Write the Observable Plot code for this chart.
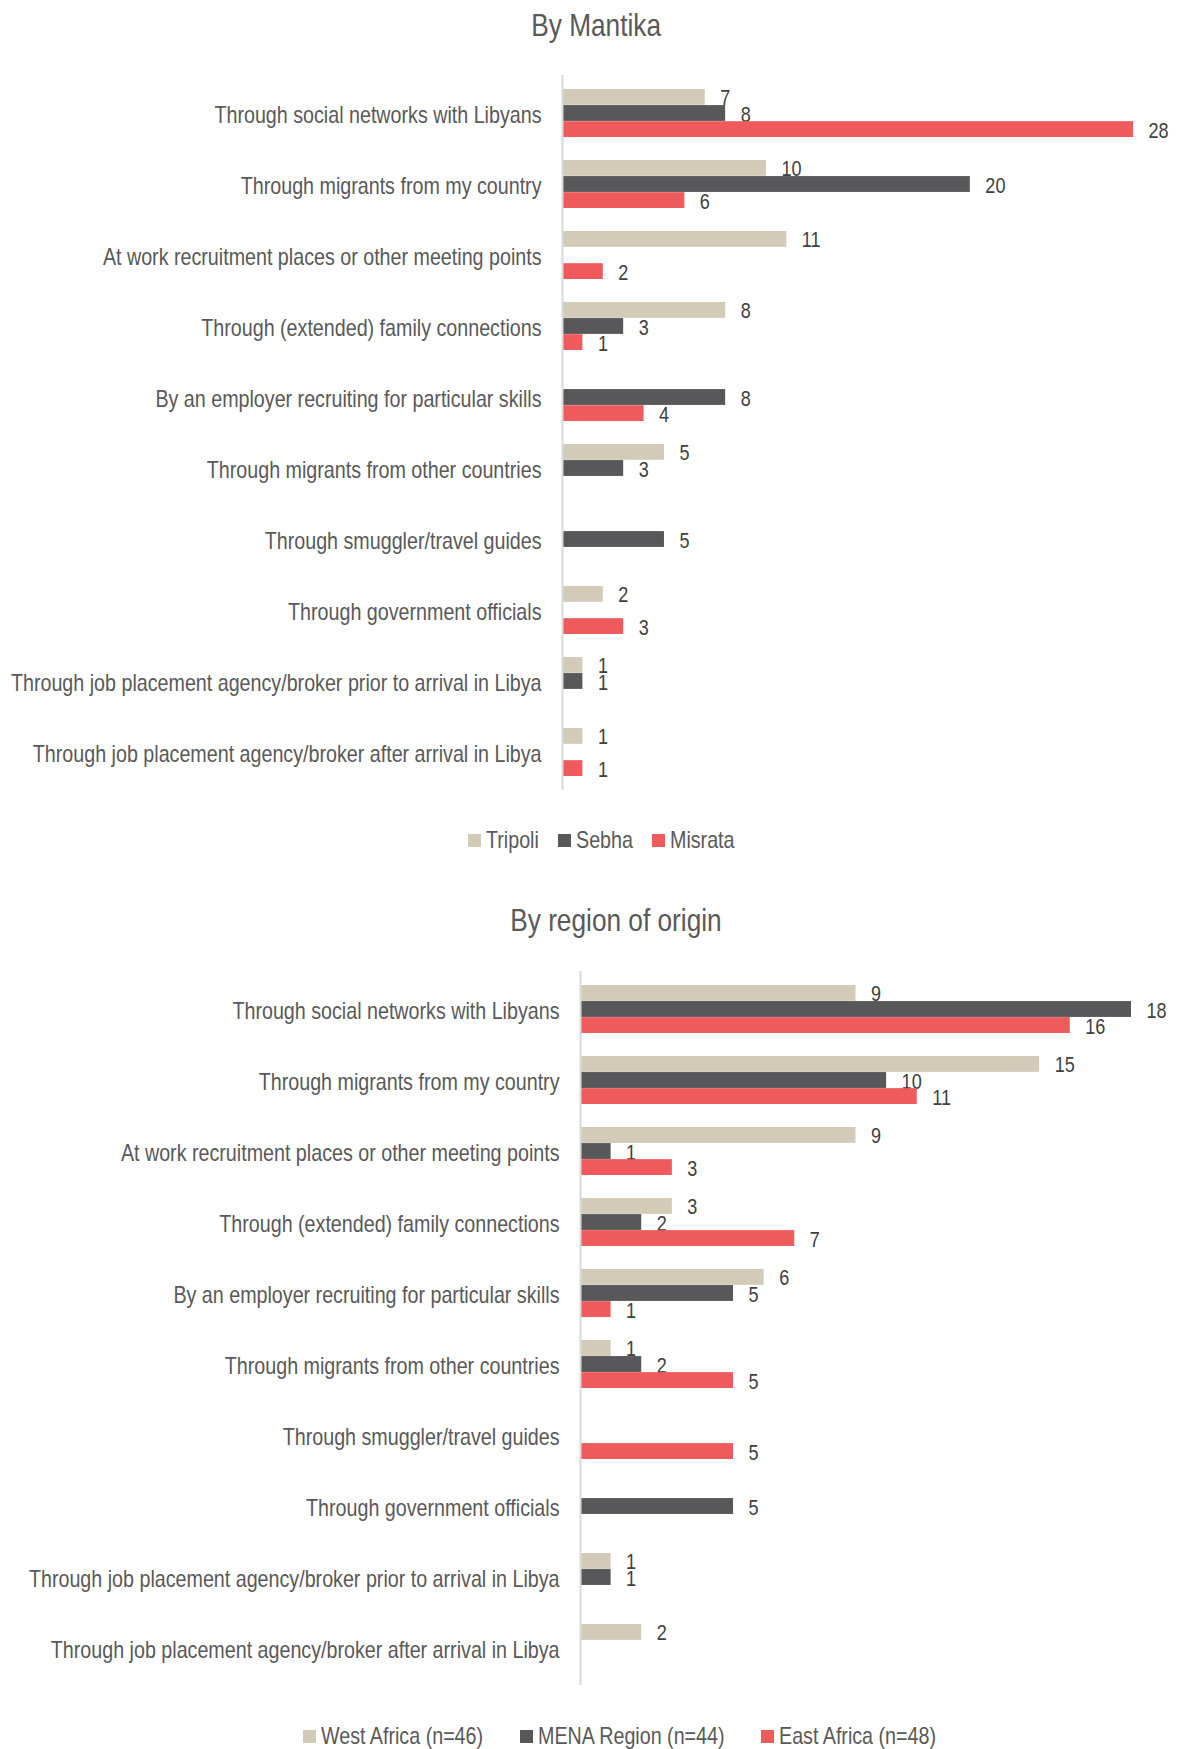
<!DOCTYPE html>
<html>
<head>
<meta charset="utf-8">
<script src="https://cdn.jsdelivr.net/npm/d3@7"></script>
<script src="https://cdn.jsdelivr.net/npm/@observablehq/plot@0.6"></script>
<style>
  body { margin: 0; background: #fff; width: 1177px; }
  .f { font-family: "Liberation Sans", Arial, sans-serif; color: #595959; }
  .title { text-align: center; font-size: 32px; position: relative; white-space: nowrap; }
  .title span { display: inline-block; transform: scaleX(0.82); transform-origin: center; }
  .legend { display: flex; justify-content: center; align-items: center; font-size: 24px; position: relative; white-space: nowrap; }
  .legend .sw { display: inline-block; width: 13px; height: 13px; margin-right: 5px; flex: none; }
  .legend .lab { display: inline-block; transform: scaleX(0.82); transform-origin: left center; }
  .legend .item { display: inline-flex; align-items: center; }
</style>
</head>
<body>
<div id="root"></div>
<script>
const categories = [
  "Through social networks with Libyans",
  "Through migrants from my country",
  "At work recruitment places or other meeting points",
  "Through (extended) family connections",
  "By an employer recruiting for particular skills",
  "Through migrants from other countries",
  "Through smuggler/travel guides",
  "Through government officials",
  "Through job placement agency/broker prior to arrival in Libya",
  "Through job placement agency/broker after arrival in Libya"
];

// Chart 1: By Mantika
const mantikaSeries = ["Tripoli", "Sebha", "Misrata"];
const tripoli = [7, 10, 11, 8, null, 5, null, 2, 1, 1];
const sebha   = [8, 20, null, 3, 8, 3, 5, null, 1, null];
const misrata = [28, 6, 2, 1, 4, null, null, 3, null, 1];

// Chart 2: By region of origin
const regionSeries = ["West Africa (n=46)", "MENA Region (n=44)", "East Africa (n=48)"];
const westAfrica = [9, 15, 9, 3, 6, 1, null, null, 1, 2];
const mena       = [18, 10, 1, 2, 5, 2, null, 5, 1, null];
const eastAfrica = [16, 11, 3, 7, 1, 5, 5, null, null, null];

const colors = ["#D3CBB8", "#58585A", "#EF5A5C"];
const FONT = '"Liberation Sans", Arial, sans-serif';
const NARROW = 0.82;

function rows(values) {
  return values.map((v, i) => ({cat: categories[i], value: v})).filter(d => d.value != null);
}

function chart({seriesValues, xMax, marginLeft, marginRight, height, marginTop, marginBottom}) {
  const pIn = 0.325, pOut = pIn / 2;
  const rangeH = height - marginTop - marginBottom;
  const step = rangeH / categories.length;
  const bw = step * (1 - pIn);
  const third = bw / 3;
  const marks = [];
  seriesValues.forEach((vals, k) => {
    const data = rows(vals);
    marks.push(Plot.barX(data, {
      x: "value", y: "cat", fill: colors[k],
      insetTop: k * third, insetBottom: (2 - k) * third
    }));
    marks.push(Plot.text(data, {
      x: "value", y: "cat", text: d => String(d.value),
      textAnchor: "start", dx: 15, dy: (k - 1) * third + 1,
      fontSize: 22, fill: "#404040"
    }));
  });
  marks.push(Plot.ruleX([0], {stroke: "#D9D9D9", strokeWidth: 2}));
  marks.push(Plot.axisY({tickSize: 0, tickPadding: 21, fontSize: 24, dy: 2}));
  return Plot.plot({
    width: 1177, height, marginLeft, marginRight, marginTop, marginBottom,
    x: {domain: [0, xMax], axis: null},
    y: {domain: categories, paddingInner: pIn, paddingOuter: pOut, label: null},
    style: {fontFamily: FONT, color: "#595959", background: "#fff"},
    marks
  });
}

function squeeze(svg) {
  svg.querySelectorAll("text").forEach(t => {
    const L = t.getComputedTextLength();
    if (L > 0) {
      t.setAttribute("textLength", (L * NARROW).toFixed(2));
      t.setAttribute("lengthAdjust", "spacingAndGlyphs");
    }
  });
}

function legend(names, offsetX, h) {
  const d = document.createElement("div");
  d.className = "legend f";
  d.style.left = offsetX + "px";
  d.style.height = h + "px";
  names.forEach((n, i) => {
    const it = document.createElement("span");
    it.className = "item";
    const sw = document.createElement("span");
    sw.className = "sw";
    sw.style.background = colors[i];
    const lab = document.createElement("span");
    lab.className = "lab";
    lab.textContent = n;
    it.appendChild(sw);
    it.appendChild(lab);
    d.appendChild(it);
  });
  return d;
}

function fixLegend(d, gap) {
  const labs = d.querySelectorAll(".lab");
  labs.forEach((lab, i) => {
    const w = lab.offsetWidth;
    lab.style.marginRight = (-(1 - NARROW) * w + (i < labs.length - 1 ? gap : 0)) + "px";
  });
}

function title(t, h, offsetX) {
  const d = document.createElement("div");
  d.className = "title f";
  d.style.height = h + "px";
  d.style.lineHeight = h + "px";
  d.style.left = offsetX + "px";
  const s = document.createElement("span");
  s.textContent = t;
  d.appendChild(s);
  return d;
}

const root = document.getElementById("root");

root.appendChild(title("By Mantika", 50, 8));
const c1 = chart({
  seriesValues: [tripoli, sebha, misrata], xMax: 28,
  marginLeft: 562, marginRight: 44, height: 750, marginTop: 25, marginBottom: 10
});
root.appendChild(c1);
squeeze(c1);
const l1 = legend(mantikaSeries, 13, 80);
root.appendChild(l1);
fixLegend(l1, 19);

root.appendChild(title("By region of origin", 80, 27));
const c2 = chart({
  seriesValues: [westAfrica, mena, eastAfrica], xMax: 18,
  marginLeft: 580, marginRight: 46, height: 735, marginTop: 11, marginBottom: 10
});
root.appendChild(c2);
squeeze(c2);
const l2 = legend(regionSeries, 31, 82);
root.appendChild(l2);
fixLegend(l2, 37);
</script>
</body>
</html>
